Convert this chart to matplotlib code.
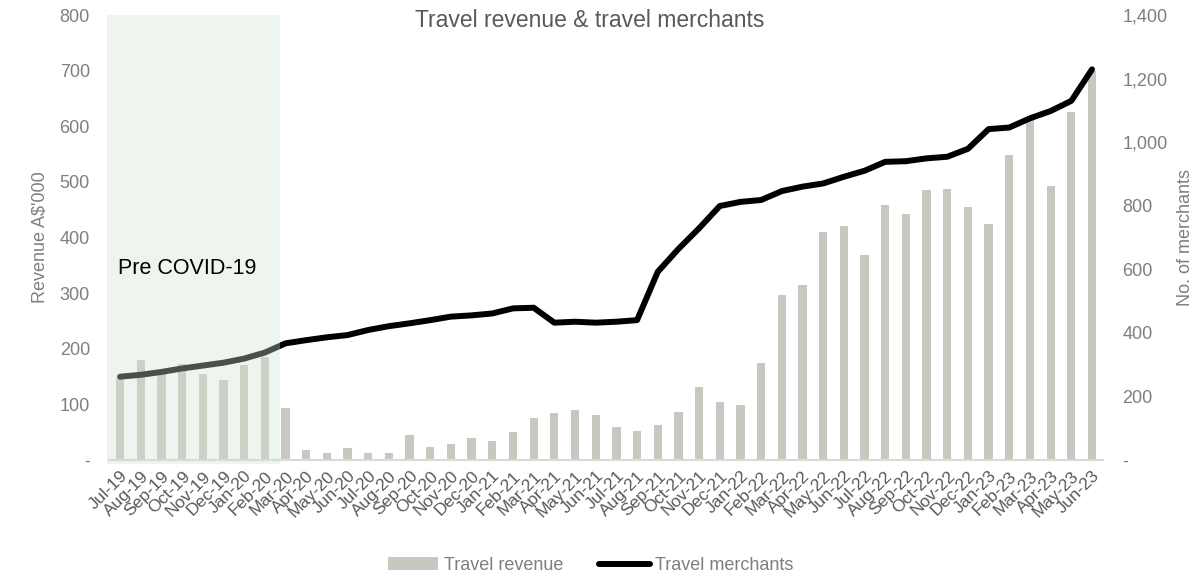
import matplotlib
matplotlib.use("Agg")
import matplotlib.pyplot as plt
from matplotlib.patches import Rectangle
from matplotlib.ticker import FuncFormatter
import matplotlib.transforms as mtransforms

months = ["Jul-19", "Aug-19", "Sep-19", "Oct-19", "Nov-19", "Dec-19", "Jan-20", "Feb-20",
          "Mar-20", "Apr-20", "May-20", "Jun-20", "Jul-20", "Aug-20", "Sep-20", "Oct-20",
          "Nov-20", "Dec-20", "Jan-21", "Feb-21", "Mar-21", "Apr-21", "May-21", "Jun-21",
          "Jul-21", "Aug-21", "Sep-21", "Oct-21", "Nov-21", "Dec-21", "Jan-22", "Feb-22",
          "Mar-22", "Apr-22", "May-22", "Jun-22", "Jul-22", "Aug-22", "Sep-22", "Oct-22",
          "Nov-22", "Dec-22", "Jan-23", "Feb-23", "Mar-23", "Apr-23", "May-23", "Jun-23"]

revenue = [147, 180, 156, 173, 155, 143, 170, 186,
           93, 18, 12, 21, 13, 13, 45, 24,
           29, 39, 35, 50, 75, 84, 89, 80,
           59, 53, 62, 86, 131, 105, 99, 174,
           297, 314, 409, 420, 368, 458, 442, 486,
           488, 454, 425, 549, 615, 493, 625, 700]

merchants = [262, 268, 277, 288, 297, 306, 319, 338,
             367, 377, 386, 393, 409, 421, 430, 440,
             451, 455, 461, 477, 479, 432, 435, 432,
             435, 440, 592, 664, 729, 799, 812, 818,
             846, 860, 870, 891, 910, 938, 940, 949,
             954, 979, 1041, 1046, 1075, 1098, 1130, 1229]

left_ticks = [0, 100, 200, 300, 400, 500, 600, 700, 800]
right_ticks = [0, 200, 400, 600, 800, 1000, 1200, 1400]

plt.rcParams['font.family'] = ['Liberation Sans', 'DejaVu Sans']

fig = plt.figure(figsize=(12.04, 5.77), dpi=100)
ax = fig.add_axes([0.0908, 0.2028, 0.8253, 0.7712])
ax2 = ax.twinx()

x = list(range(len(months)))
bars = ax.bar(x, revenue, width=0.4, color="#c8c8c0", label="Travel revenue", zorder=2)
line, = ax2.plot(x, merchants, color="black", lw=4.3, solid_capstyle="round",
                 solid_joinstyle="round", label="Travel merchants", zorder=3)

ax.set_xlim(-0.52, 47.53)
ax.set_ylim(0, 800)
ax2.set_ylim(0, 1400)

tick_color = "#7f7f7f"
ax.set_yticks(left_ticks)
ax.yaxis.set_major_formatter(FuncFormatter(lambda v, p: "-" if v == 0 else f"{int(v)}"))
ax2.set_yticks(right_ticks)
ax2.yaxis.set_major_formatter(FuncFormatter(lambda v, p: "-" if v == 0 else f"{int(v):,}"))
ax.tick_params(axis='y', length=0, pad=14, labelsize=13, labelcolor=tick_color)
ax2.tick_params(axis='y', length=0, pad=14, labelsize=13, labelcolor=tick_color)

ax.set_xticks(x)
ax.set_xticklabels(months, rotation=45, ha='right', rotation_mode='anchor',
                   fontsize=12.5, color="#595959")
ax.tick_params(axis='x', length=0, pad=6)

for a in (ax, ax2):
    for s in ("top", "left", "right", "bottom"):
        a.spines[s].set_visible(False)
ax.spines["bottom"].set_visible(True)
ax.spines["bottom"].set_color("#d9d9d9")
ax.spines["bottom"].set_linewidth(1.5)

ax.set_ylabel("Revenue A$'000", fontsize=13, color=tick_color, labelpad=8)
ax2.set_ylabel("No. of merchants", fontsize=13, color=tick_color, labelpad=7)

# pre-COVID shading drawn over the marks
trans = mtransforms.blended_transform_factory(ax2.transData, ax2.transAxes)
rect = Rectangle((-0.64, -0.008), 8.38, 1.008, transform=trans, facecolor="#d0e3d0",
                 alpha=0.36, edgecolor="none", zorder=5, clip_on=False)
ax2.add_patch(rect)
ax2.text(-0.1, 0.43, "Pre COVID-19", transform=trans,
         fontsize=15.5, color="black", ha="left", va="center", zorder=6)

fig.text(0.49, 0.965, "Travel revenue & travel merchants", ha="center", va="center",
         fontsize=16.5, color="#595959")

fig.legend(handles=[bars, line], labels=["Travel revenue", "Travel merchants"],
           loc="center", bbox_to_anchor=(0.4905, 0.02), ncol=2, frameon=False,
           fontsize=13, labelcolor="#7f7f7f", handlelength=2.8, handletextpad=0.3,
           columnspacing=2.0)

fig.savefig("out.png", dpi=100)
